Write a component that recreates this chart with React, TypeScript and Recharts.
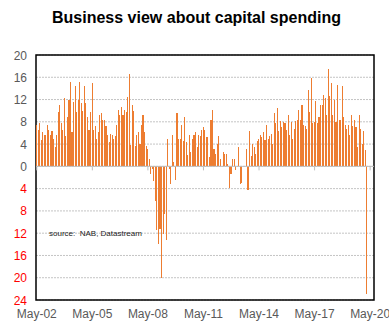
import { BarChart, Bar, XAxis, YAxis, CartesianGrid, ReferenceLine, ReferenceArea } from "recharts";

// NAB survey: capex intentions, monthly, May-02 to Mar-20
const vals2002 = [7.4, 6.5, 7.8, 4.7, 6.1, 5.6, 5.7, 7.5, 6.6, 5.7, 6.3, 5.0, 3.4, 5.7, 9.7, 11.1, 7.7, 6.6, 12.2, 5.4, 8.8, 11.9, 15.1, 6.1, 11.5, 14.4, 9.7, 12.0, 15.1, 11.3, 9.9, 14.4, 11.3, 8.8, 6.5, 9.7];
const vals2005 = [14.9, 6.5, 7.2, 4.9, 6.1, 9.2, 9.5, 8.4, 8.4, 7.2, 5.6, 4.3, 5.9, 5.7, 5.0, 5.4, 7.4, 10.2, 9.2, 10.6, 9.3, 10.1, 9.7, 12.4, 16.5, 3.8, 11.0, 9.9, 3.6, 5.7, 6.1, 4.1, 7.4, 9.2, 6.1, 3.6];
const vals2008 = [3.2, 1.3, -1.3, -0.4, -2.7, -6.3, -11.5, -14.0, -11.3, -20.1, -12.2, -8.6, -13.3, 4.9, -0.5, -3.2, 5.6, 0.7, -2.5, 9.5, 5.0, 5.0, 7.5, 4.5, 8.8, 4.3, 2.0, 5.7, 2.5, 4.9, 5.6, 6.1, 3.4, 5.6, 5.4, 6.6];
const vals2011 = [7.0, 6.5, 5.2, 5.2, 1.6, 8.3, 10.1, 3.1, 2.3, 4.1, 5.4, 1.3, 0, 2.5, 2.3, 2.3, 0.4, -3.8, -1.3, 1.4, 1.3, -0.7, 0, 3.4, -3.2, -2.9, 0, 0, 3.1, -4.3, 6.3, 1.8, 4.1, 3.4, 2.2, 4.5];
const vals2014 = [4.9, 5.7, 5.2, 6.1, 4.7, 7.5, 5.0, 5.4, 5.9, 4.0, 9.5, 7.7, 10.4, 6.3, 8.1, 7.0, 7.9, 7.7, 6.6, 9.3, 5.6, 7.9, 4.9, 6.8, 8.1, 8.3, 10.2, 8.4, 11.0, 7.4, 7.2, 6.8, 13.7, 9.7, 15.8, 7.7];
const vals2017 = [7.9, 11.7, 7.7, 8.8, 11.1, 11.0, 12.8, 12.2, 9.3, 17.4, 12.6, 14.9, 9.3, 11.9, 7.9, 14.7, 8.3, 8.4, 14.4, 8.8, 7.5, 6.8, 7.4, 5.7, 9.3, 7.2, 8.3, 7.0, 3.4, 9.2, 6.8, 4.0, 6.3, 2.9, -22.9];

const monthNames = ["Jan", "Feb", "Mar", "Apr", "May", "Jun", "Jul", "Aug", "Sep", "Oct", "Nov", "Dec"];
const xTicks = ["May-02", "May-05", "May-08", "May-11", "May-14", "May-17", "May-20"];
const yTicks = [-24, -20, -16, -12, -8, -4, 0, 4, 8, 12, 16, 20];

const Y_MIN = -24;
const Y_MAX = 20;
const TOP = 55;
const PLOT_H = 245;
const ZERO_Y = TOP + (PLOT_H * Y_MAX) / (Y_MAX - Y_MIN);

const values: (number | null)[] = [...vals2002, ...vals2005, ...vals2008, ...vals2011, ...vals2014, ...vals2017];
// axis runs a few months past the last reading (to Jul-20)
while (values.length < 219) values.push(null);

const data = values.map((v, i) => {
  const m = (4 + i) % 12;
  const y = 2 + Math.floor((4 + i) / 12);
  return { month: `${monthNames[m]}-${String(y).padStart(2, "0")}`, capex: v };
});

const font = "'Liberation Sans', Arial, sans-serif";

const YTick = ({ x, y, payload }: any) => {
  const v = payload.value as number;
  return (
    <text x={x - 1} y={y} dy={4.5} textAnchor="end" fontSize={12} fontFamily={font} fill={v < 0 ? "#ff0000" : "#595959"}>
      {Math.abs(v)}
    </text>
  );
};

const XTick = ({ x, y, payload }: any) => (
  <g>
    <line x1={x} x2={x} y1={ZERO_Y} y2={ZERO_Y + 4} stroke="#bfbfbf" />
    <text x={x} y={y} dy={10} textAnchor="middle" fontSize={12} fontFamily={font} fill="#595959">
      {payload.value}
    </text>
  </g>
);

export default function App() {
  return (
    <div style={{ position: "absolute", left: 0, top: 0, width: 389, height: 323, background: "#fff", fontFamily: font }}>
      <div style={{ position: "absolute", left: 0, top: 9, width: 393, textAlign: "center", fontWeight: "bold", fontSize: 16, lineHeight: "18px", color: "#000" }}>
        Business view about capital spending
      </div>
      <BarChart width={389} height={323} data={data} margin={{ top: TOP, right: 15, bottom: 0, left: 0 }} barCategoryGap={0} barGap={0}>
        <CartesianGrid horizontal vertical={false} stroke="#c4c4c4" strokeDasharray="2 1" />
        <XAxis dataKey="month" ticks={xTicks} interval={0} axisLine={false} tickLine={false} height={23} tick={<XTick />} />
        <YAxis domain={[Y_MIN, Y_MAX]} ticks={yTicks} interval={0} width={36} axisLine={false} tickLine={false} tick={<YTick />} allowDataOverflow />
        <ReferenceLine y={0} stroke="#bfbfbf" />
        <Bar dataKey="capex" fill="#ed7d31" barSize={1.1} shapeRendering="crispEdges" isAnimationActive={false} />
        <ReferenceArea y1={Y_MIN} y2={Y_MAX} fill="none" stroke="#000" strokeWidth={1.5} ifOverflow="visible" />
      </BarChart>
      <div style={{ position: "absolute", left: 49, top: 229, fontSize: 8, color: "#222", whiteSpace: "pre" }}>
        source:  NAB, Datastream
      </div>
    </div>
  );
}
